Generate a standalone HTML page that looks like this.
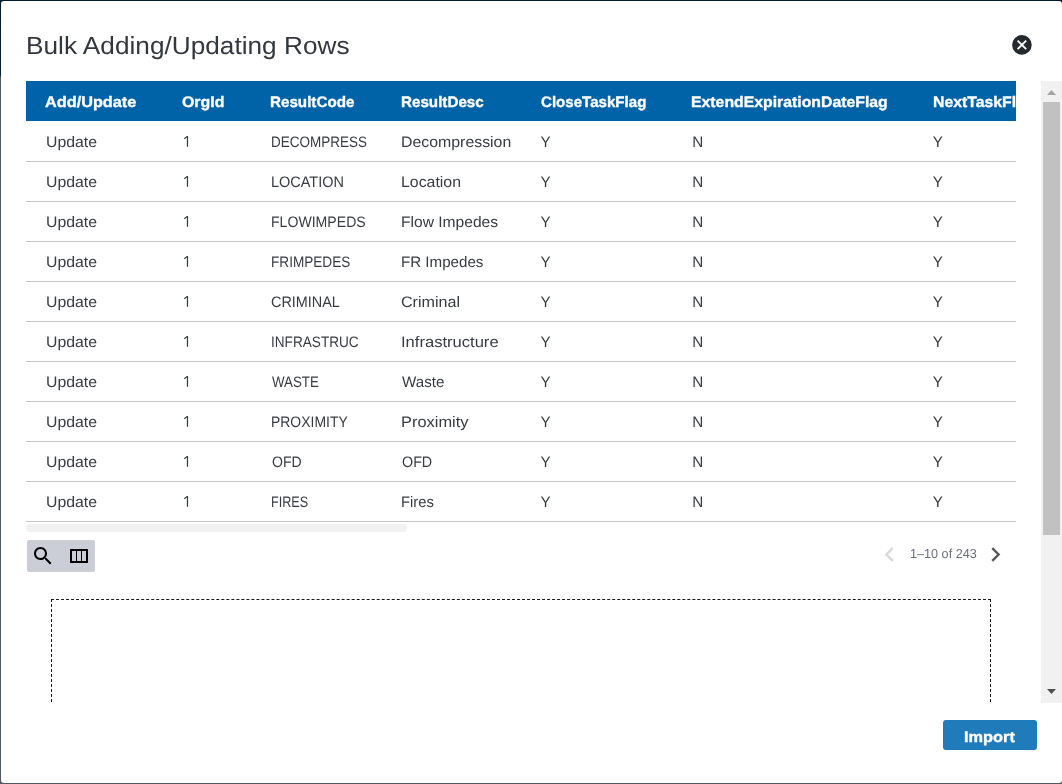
<!DOCTYPE html>
<html><head><meta charset="utf-8">
<style>
*{box-sizing:border-box;margin:0;padding:0}
html,body{width:1062px;height:784px;overflow:hidden}
body{position:relative;font-family:"Liberation Sans",sans-serif;background:linear-gradient(to bottom,#001a33 0,#00223f 40px,#00223f 75px,#535960 78px,#535960 100%)}
.modal{position:absolute;left:1px;top:1px;width:1061px;height:782px;background:#fff;border-radius:3px}
.abs{position:absolute}
.t{position:absolute;white-space:nowrap;transform-origin:0 0;line-height:20px;text-rendering:geometricPrecision}
.t-title{font-size:24.7px;color:#33383e;line-height:30px}
.t-h{font-size:15.2px;font-weight:bold;color:#fff;-webkit-text-stroke:0.35px #fff}
.t-b{font-size:15.2px;color:#383c42}
.t-pg{font-size:13px;color:#6c707b}
.t-imp{font-size:15.2px;font-weight:bold;color:#fff;-webkit-text-stroke:0.35px #fff}
</style></head>
<body>
<div class="modal"></div>
<svg class="abs" style="left:1012px;top:35px" width="20" height="20" viewBox="0 0 20 20"><circle cx="9.9" cy="9.9" r="9.8" fill="#24292e"/><path d="M5.6 5.6L14.2 14.2M14.2 5.6L5.6 14.2" stroke="#fff" stroke-width="1.9"/></svg>
<div class="abs" style="left:26px;top:81px;width:990px;height:40px;background:#0062a7"></div>
<div class="abs" style="left:26px;top:161px;width:990px;height:1px;background:#c6c6c6"></div>
<div class="abs" style="left:26px;top:201px;width:990px;height:1px;background:#c6c6c6"></div>
<div class="abs" style="left:26px;top:241px;width:990px;height:1px;background:#c6c6c6"></div>
<div class="abs" style="left:26px;top:281px;width:990px;height:1px;background:#c6c6c6"></div>
<div class="abs" style="left:26px;top:321px;width:990px;height:1px;background:#c6c6c6"></div>
<div class="abs" style="left:26px;top:361px;width:990px;height:1px;background:#c6c6c6"></div>
<div class="abs" style="left:26px;top:401px;width:990px;height:1px;background:#c6c6c6"></div>
<div class="abs" style="left:26px;top:441px;width:990px;height:1px;background:#c6c6c6"></div>
<div class="abs" style="left:26px;top:481px;width:990px;height:1px;background:#c6c6c6"></div>
<div class="abs" style="left:26px;top:521px;width:990px;height:1px;background:#c6c6c6"></div>
<div class="abs" style="left:26px;top:524px;width:381px;height:8px;background:#f1f1f1;border-radius:4px"></div>
<div class="abs" style="left:27px;top:540px;width:68px;height:32px;background:#cbced6;border-radius:2px"></div>
<div class="abs" style="left:51px;top:599px;width:940px;height:103px;border:1px dashed #1b1b1b;border-bottom:none"></div>
<div class="abs" style="left:1041px;top:81px;width:21px;height:622px;background:#f1f1f1"></div>
<div class="abs" style="left:1043px;top:102px;width:17px;height:433px;background:#c1c1c1"></div>
<svg class="abs" style="left:1041px;top:81px" width="21" height="622" viewBox="0 0 21 622"><path d="M6 14L15 14L10.5 9Z" fill="#a3a3a3"/><path d="M6 608L15 608L10.5 613Z" fill="#505050"/></svg>
<svg class="abs" style="left:31px;top:544px" width="24" height="24" viewBox="0 0 24 24"><path d="M15.5 14h-.79l-.28-.27C15.41 12.59 16 11.11 16 9.5 16 5.91 13.09 3 9.5 3S3 5.910 3 9.5 5.91 16 9.5 16c1.61 0 3.09-.59 4.23-1.57l.27.28v.79l5 4.99L20.490 19l-4.99-5zm-6 0C7.01 14 5 11.99 5 9.5S7.01 5 9.5 5 14 7.01 14 9.5 11.99 14 9.5 14z" fill="#000"/></svg>
<svg class="abs" style="left:70px;top:549px" width="18" height="14" viewBox="0 0 18 14"><path fill-rule="evenodd" fill="#000" d="M0.6 0H17.4Q18 0 18 0.6V13.4Q18 14 17.4 14H0.6Q0 14 0 13.4V0.6Q0 0 0.6 0ZM2 2V12H6V2ZM7 2V12H11V2ZM12 2V12H16V2Z"/></svg>
<svg class="abs" style="left:875px;top:540px" width="29" height="29" viewBox="0 0 24 24"><path d="M15.41 7.41L14 6l-6 6 6 6 1.41-1.41L10.83 12z" fill="#d9d9d9"/></svg>
<svg class="abs" style="left:981px;top:540px" width="29" height="29" viewBox="0 0 24 24"><path d="M10 6L8.59 7.41 13.17 12l-4.58 4.59L10 18l6-6z" fill="#595959"/></svg>
<div class="abs" style="left:943px;top:720px;width:94px;height:30px;background:#207bba;border-radius:3px"></div>
<div id="clip" class="abs" style="left:0;top:0;width:1016px;height:784px;overflow:hidden;will-change:transform">
<span id="title" class="t t-title" style="left:25.88px;top:31.5px;transform:scaleX(1.0619)">Bulk Adding/Updating Rows</span>
<span id="h0" class="t t-h" style="left:44.93px;top:93px;transform:scaleX(1.0714)">Add/Update</span>
<span id="h1" class="t t-h" style="left:182.36px;top:93px;transform:scaleX(1.0462)">OrgId</span>
<span id="h2" class="t t-h" style="left:270.00px;top:93px;transform:scaleX(1.0000)">ResultCode</span>
<span id="h3" class="t t-h" style="left:401.00px;top:93px;transform:scaleX(1.0000)">ResultDesc</span>
<span id="h4" class="t t-h" style="left:541.40px;top:93px;transform:scaleX(0.9933)">CloseTaskFlag</span>
<span id="h5" class="t t-h" style="left:690.96px;top:93px;transform:scaleX(1.0406)">ExtendExpirationDateFlag</span>
<span id="h6" class="t t-h" style="left:932.96px;top:93px;transform:scaleX(1.0406)">NextTaskFlag</span>
<span id="r0a" class="t t-b" style="left:46.18px;top:133px;transform:scaleX(1.0396)">Update</span>
<svg class="abs" style="left:183px;top:136px" width="8" height="13" viewBox="0 0 8 13"><path d="M3.85 0H5.1V10.8H3.85V1.55L1.55 3.3L0.95 2.35Z" fill="#383c42"/></svg>
<span id="r0c" class="t t-b" style="left:271.11px;top:133px;transform:scaleX(0.8879)">DECOMPRESS</span>
<span id="r0d" class="t t-b" style="left:400.95px;top:133px;transform:scaleX(1.0452)">Decompression</span>
<span id="r0e" class="t t-b" style="left:540.40px;top:133px">Y</span>
<span id="r0f" class="t t-b" style="left:692.30px;top:133px">N</span>
<span id="r0g" class="t t-b" style="left:932.85px;top:133px">Y</span>
<span id="r1a" class="t t-b" style="left:46.18px;top:173px;transform:scaleX(1.0396)">Update</span>
<svg class="abs" style="left:183px;top:176px" width="8" height="13" viewBox="0 0 8 13"><path d="M3.85 0H5.1V10.8H3.85V1.55L1.55 3.3L0.95 2.35Z" fill="#383c42"/></svg>
<span id="r1c" class="t t-b" style="left:271.05px;top:173px;transform:scaleX(0.9533)">LOCATION</span>
<span id="r1d" class="t t-b" style="left:400.96px;top:173px;transform:scaleX(1.0446)">Location</span>
<span id="r1e" class="t t-b" style="left:540.40px;top:173px">Y</span>
<span id="r1f" class="t t-b" style="left:692.30px;top:173px">N</span>
<span id="r1g" class="t t-b" style="left:932.85px;top:173px">Y</span>
<span id="r2a" class="t t-b" style="left:46.18px;top:213px;transform:scaleX(1.0396)">Update</span>
<svg class="abs" style="left:183px;top:216px" width="8" height="13" viewBox="0 0 8 13"><path d="M3.85 0H5.1V10.8H3.85V1.55L1.55 3.3L0.95 2.35Z" fill="#383c42"/></svg>
<span id="r2c" class="t t-b" style="left:271.07px;top:213px;transform:scaleX(0.9277)">FLOWIMPEDS</span>
<span id="r2d" class="t t-b" style="left:400.97px;top:213px;transform:scaleX(1.0269)">Flow Impedes</span>
<span id="r2e" class="t t-b" style="left:540.40px;top:213px">Y</span>
<span id="r2f" class="t t-b" style="left:692.30px;top:213px">N</span>
<span id="r2g" class="t t-b" style="left:932.85px;top:213px">Y</span>
<span id="r3a" class="t t-b" style="left:46.18px;top:253px;transform:scaleX(1.0396)">Update</span>
<svg class="abs" style="left:183px;top:256px" width="8" height="13" viewBox="0 0 8 13"><path d="M3.85 0H5.1V10.8H3.85V1.55L1.55 3.3L0.95 2.35Z" fill="#383c42"/></svg>
<span id="r3c" class="t t-b" style="left:271.10px;top:253px;transform:scaleX(0.8954)">FRIMPEDES</span>
<span id="r3d" class="t t-b" style="left:401.00px;top:253px;transform:scaleX(0.9963)">FR Impedes</span>
<span id="r3e" class="t t-b" style="left:540.40px;top:253px">Y</span>
<span id="r3f" class="t t-b" style="left:692.30px;top:253px">N</span>
<span id="r3g" class="t t-b" style="left:932.85px;top:253px">Y</span>
<span id="r4a" class="t t-b" style="left:46.18px;top:293px;transform:scaleX(1.0396)">Update</span>
<svg class="abs" style="left:183px;top:296px" width="8" height="13" viewBox="0 0 8 13"><path d="M3.85 0H5.1V10.8H3.85V1.55L1.55 3.3L0.95 2.35Z" fill="#383c42"/></svg>
<span id="r4c" class="t t-b" style="left:271.05px;top:293px;transform:scaleX(0.9493)">CRIMINAL</span>
<span id="r4d" class="t t-b" style="left:400.94px;top:293px;transform:scaleX(1.0593)">Criminal</span>
<span id="r4e" class="t t-b" style="left:540.40px;top:293px">Y</span>
<span id="r4f" class="t t-b" style="left:692.30px;top:293px">N</span>
<span id="r4g" class="t t-b" style="left:932.85px;top:293px">Y</span>
<span id="r5a" class="t t-b" style="left:46.18px;top:333px;transform:scaleX(1.0396)">Update</span>
<svg class="abs" style="left:183px;top:336px" width="8" height="13" viewBox="0 0 8 13"><path d="M3.85 0H5.1V10.8H3.85V1.55L1.55 3.3L0.95 2.35Z" fill="#383c42"/></svg>
<span id="r5c" class="t t-b" style="left:271.10px;top:333px;transform:scaleX(0.8958)">INFRASTRUC</span>
<span id="r5d" class="t t-b" style="left:400.91px;top:333px;transform:scaleX(1.0909)">Infrastructure</span>
<span id="r5e" class="t t-b" style="left:540.40px;top:333px">Y</span>
<span id="r5f" class="t t-b" style="left:692.30px;top:333px">N</span>
<span id="r5g" class="t t-b" style="left:932.85px;top:333px">Y</span>
<span id="r6a" class="t t-b" style="left:46.18px;top:373px;transform:scaleX(1.0396)">Update</span>
<svg class="abs" style="left:183px;top:376px" width="8" height="13" viewBox="0 0 8 13"><path d="M3.85 0H5.1V10.8H3.85V1.55L1.55 3.3L0.95 2.35Z" fill="#383c42"/></svg>
<span id="r6c" class="t t-b" style="left:272.00px;top:373px;transform:scaleX(0.8774)">WASTE</span>
<span id="r6d" class="t t-b" style="left:402.00px;top:373px;transform:scaleX(0.9976)">Waste</span>
<span id="r6e" class="t t-b" style="left:540.40px;top:373px">Y</span>
<span id="r6f" class="t t-b" style="left:692.30px;top:373px">N</span>
<span id="r6g" class="t t-b" style="left:932.85px;top:373px">Y</span>
<span id="r7a" class="t t-b" style="left:46.18px;top:413px;transform:scaleX(1.0396)">Update</span>
<svg class="abs" style="left:183px;top:416px" width="8" height="13" viewBox="0 0 8 13"><path d="M3.85 0H5.1V10.8H3.85V1.55L1.55 3.3L0.95 2.35Z" fill="#383c42"/></svg>
<span id="r7c" class="t t-b" style="left:271.08px;top:413px;transform:scaleX(0.9183)">PROXIMITY</span>
<span id="r7d" class="t t-b" style="left:400.92px;top:413px;transform:scaleX(1.0803)">Proximity</span>
<span id="r7e" class="t t-b" style="left:540.40px;top:413px">Y</span>
<span id="r7f" class="t t-b" style="left:692.30px;top:413px">N</span>
<span id="r7g" class="t t-b" style="left:932.85px;top:413px">Y</span>
<span id="r8a" class="t t-b" style="left:46.18px;top:453px;transform:scaleX(1.0396)">Update</span>
<svg class="abs" style="left:183px;top:456px" width="8" height="13" viewBox="0 0 8 13"><path d="M3.85 0H5.1V10.8H3.85V1.55L1.55 3.3L0.95 2.35Z" fill="#383c42"/></svg>
<span id="r8c" class="t t-b" style="left:272.00px;top:453px;transform:scaleX(0.9258)">OFD</span>
<span id="r8d" class="t t-b" style="left:402.00px;top:453px;transform:scaleX(0.9419)">OFD</span>
<span id="r8e" class="t t-b" style="left:540.40px;top:453px">Y</span>
<span id="r8f" class="t t-b" style="left:692.30px;top:453px">N</span>
<span id="r8g" class="t t-b" style="left:932.85px;top:453px">Y</span>
<span id="r9a" class="t t-b" style="left:46.18px;top:493px;transform:scaleX(1.0396)">Update</span>
<svg class="abs" style="left:183px;top:496px" width="8" height="13" viewBox="0 0 8 13"><path d="M3.85 0H5.1V10.8H3.85V1.55L1.55 3.3L0.95 2.35Z" fill="#383c42"/></svg>
<span id="r9c" class="t t-b" style="left:271.17px;top:493px;transform:scaleX(0.8326)">FIRES</span>
<span id="r9d" class="t t-b" style="left:401.02px;top:493px;transform:scaleX(0.9758)">Fires</span>
<span id="r9e" class="t t-b" style="left:540.40px;top:493px">Y</span>
<span id="r9f" class="t t-b" style="left:692.30px;top:493px">N</span>
<span id="r9g" class="t t-b" style="left:932.85px;top:493px">Y</span>
<span id="pg" class="t t-pg" style="left:909.61px;top:544px;transform:scaleX(0.9721)">1–10 of 243</span>
<span id="imp" class="t t-imp" style="left:964.34px;top:728px;transform:scaleX(1.0766)">Import</span>
</div>
</body></html>
